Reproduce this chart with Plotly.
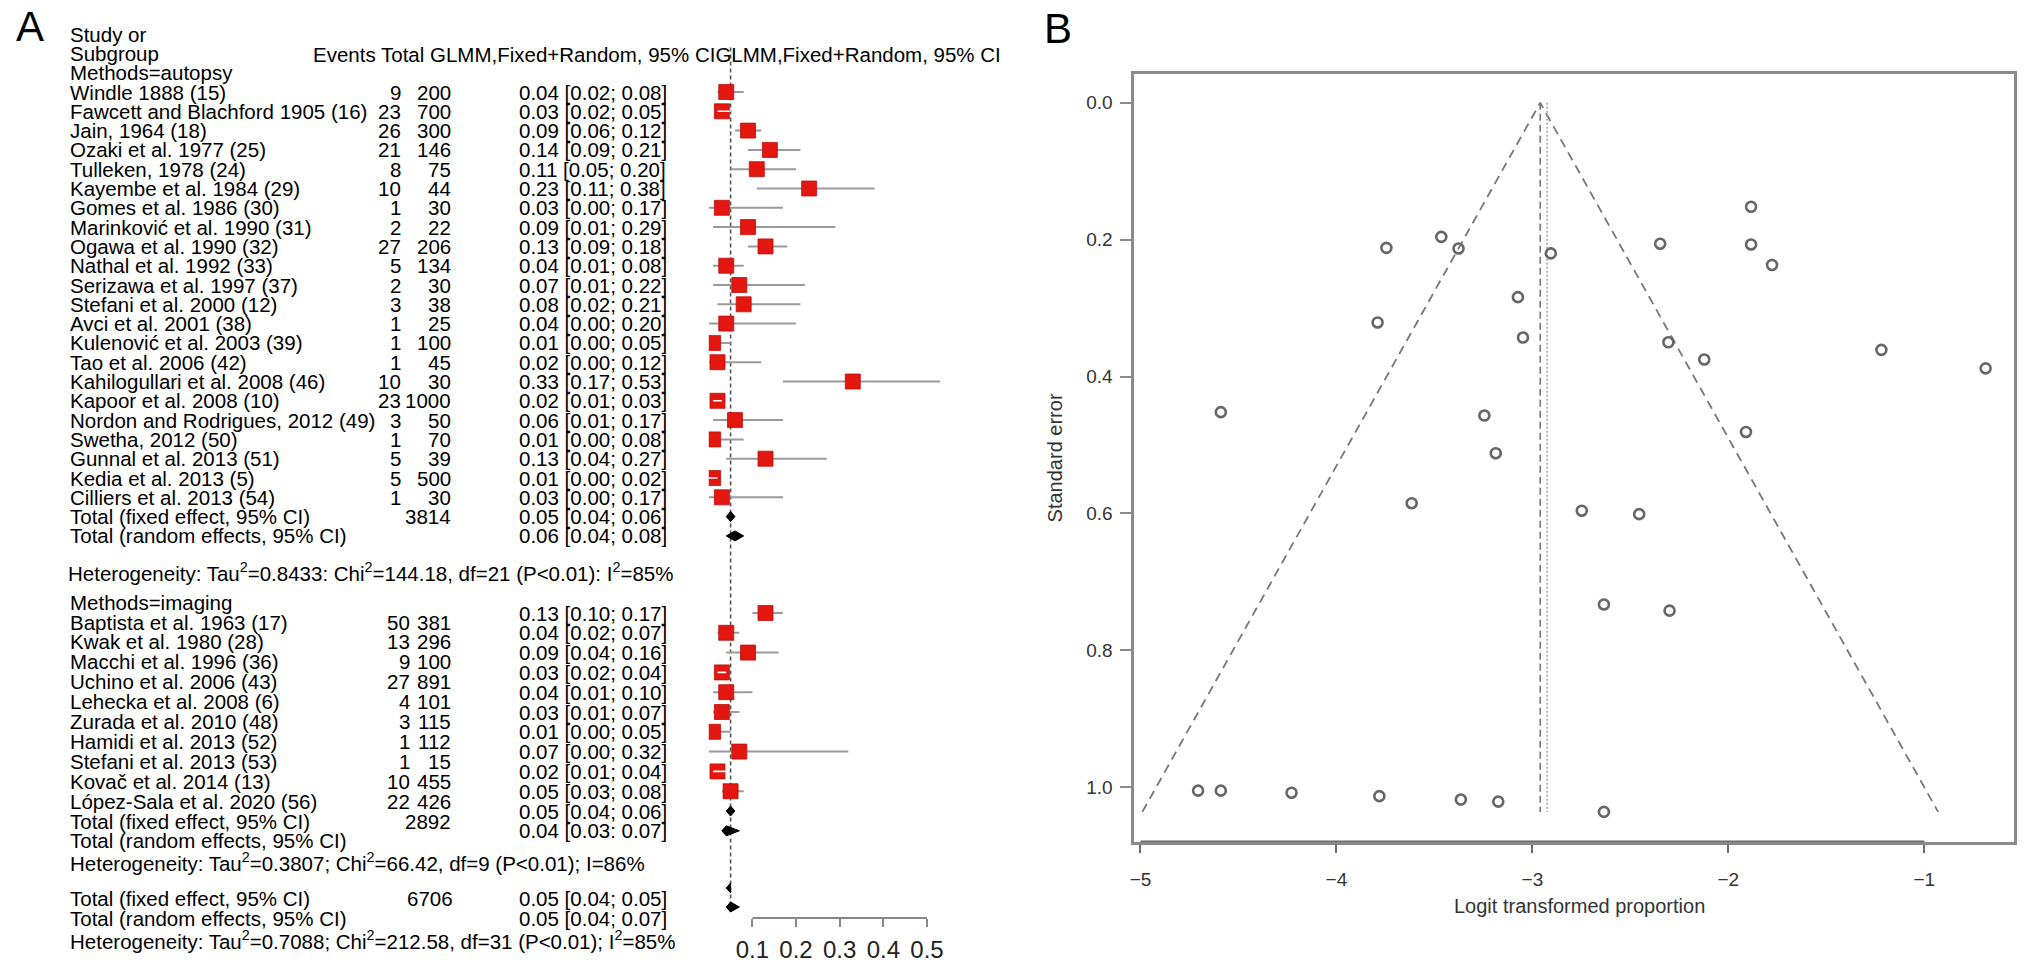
import plotly.graph_objects as go

W, H = 2032, 969

# ------------------------- data: panel A (forest plot) -------------------------
autopsy_study = ["Windle 1888 (15)", "Fawcett and Blachford 1905 (16)", "Jain, 1964 (18)",
                 "Ozaki et al. 1977 (25)", "Tulleken, 1978 (24)", "Kayembe et al. 1984 (29)",
                 "Gomes et al. 1986 (30)", "Marinković et al. 1990 (31)", "Ogawa et al. 1990 (32)",
                 "Nathal et al. 1992 (33)", "Serizawa et al. 1997 (37)", "Stefani et al. 2000 (12)",
                 "Avci et al. 2001 (38)", "Kulenović et al. 2003 (39)", "Tao et al. 2006 (42)",
                 "Kahilogullari et al. 2008 (46)", "Kapoor et al. 2008 (10)",
                 "Nordon and Rodrigues, 2012 (49)", "Swetha, 2012 (50)", "Gunnal et al. 2013 (51)",
                 "Kedia et al. 2013 (5)", "Cilliers et al. 2013 (54)"]
autopsy_events = [9, 23, 26, 21, 8, 10, 1, 2, 27, 5, 2, 3, 1, 1, 1, 10, 23, 3, 1, 5, 5, 1]
autopsy_total = [200, 700, 300, 146, 75, 44, 30, 22, 206, 134, 30, 38, 25, 100, 45, 30, 1000, 50, 70, 39, 500, 30]
autopsy_est = [0.04, 0.03, 0.09, 0.14, 0.11, 0.23, 0.03, 0.09, 0.13, 0.04, 0.07, 0.08, 0.04, 0.01, 0.02, 0.33, 0.02, 0.06, 0.01, 0.13, 0.01, 0.03]
autopsy_lo = [0.02, 0.02, 0.06, 0.09, 0.05, 0.11, 0.00, 0.01, 0.09, 0.01, 0.01, 0.02, 0.00, 0.00, 0.00, 0.17, 0.01, 0.01, 0.00, 0.04, 0.00, 0.00]
autopsy_hi = [0.08, 0.05, 0.12, 0.21, 0.20, 0.38, 0.17, 0.29, 0.18, 0.08, 0.22, 0.21, 0.20, 0.05, 0.12, 0.53, 0.03, 0.17, 0.08, 0.27, 0.02, 0.17]

imaging_study = ["Baptista et al. 1963 (17)", "Kwak et al. 1980 (28)", "Macchi et al. 1996 (36)",
                 "Uchino et al. 2006 (43)", "Lehecka et al. 2008 (6)", "Zurada et al. 2010 (48)",
                 "Hamidi et al. 2013 (52)", "Stefani et al. 2013 (53)", "Kovač et al. 2014 (13)",
                 "López-Sala et al. 2020 (56)"]
imaging_events = [50, 13, 9, 27, 4, 3, 1, 1, 10, 22]
imaging_total = [381, 296, 100, 891, 101, 115, 112, 15, 455, 426]
imaging_est = [0.13, 0.04, 0.09, 0.03, 0.04, 0.03, 0.01, 0.07, 0.02, 0.05]
imaging_lo = [0.10, 0.02, 0.04, 0.02, 0.01, 0.01, 0.00, 0.00, 0.01, 0.03]
imaging_hi = [0.17, 0.07, 0.16, 0.04, 0.10, 0.07, 0.05, 0.32, 0.04, 0.08]

summary_labels = ["Total (fixed effect, 95% CI)", "Total (random effects, 95% CI)"]
autopsy_sum_n = 3814
autopsy_sum_est = [0.05, 0.06]
autopsy_sum_lo = [0.04, 0.04]
autopsy_sum_hi = [0.06, 0.08]
imaging_sum_n = 2892
imaging_sum_est = [0.05, 0.04]
imaging_sum_lo = [0.04, 0.03]
imaging_sum_hi = [0.06, 0.07]
imaging_sum_sep = ["; ", ": "]
overall_sum_n = 6706
overall_sum_est = [0.05, 0.05]
overall_sum_lo = [0.04, 0.04]
overall_sum_hi = [0.05, 0.07]

het_autopsy = "Heterogeneity: Tau<sup>2</sup>=0.8433: Chi<sup>2</sup>=144.18, df=21 (P&lt;0.01): I<sup>2</sup>=85%"
het_imaging = "Heterogeneity: Tau<sup>2</sup>=0.3807; Chi<sup>2</sup>=66.42, df=9 (P&lt;0.01); I=86%"
het_overall = "Heterogeneity: Tau<sup>2</sup>=0.7088; Chi<sup>2</sup>=212.58, df=31 (P&lt;0.01); I<sup>2</sup>=85%"

header_cols = "Events Total GLMM,Fixed+Random, 95% CIGLMM,Fixed+Random, 95% CI"
forest_ticks = [0.1, 0.2, 0.3, 0.4, 0.5]

# ------------------------- data: panel B (funnel plot) -------------------------
funnel_logit = [-1.884, -3.465, -3.745, -3.377, -2.906, -2.348, -1.884, -1.777, -3.074, -3.790,
                -3.048, -2.306, -2.123, -1.219, -0.687, -4.590, -3.245, -1.910, -3.187, -3.616,
                -2.748, -2.455, -2.635, -2.300, -4.706, -4.590, -4.229, -3.781, -3.365, -3.174,
                -2.635]
funnel_se = [0.152, 0.196, 0.212, 0.213, 0.220, 0.206, 0.207, 0.237, 0.284, 0.321,
             0.343, 0.350, 0.375, 0.361, 0.388, 0.452, 0.457, 0.481, 0.512, 0.585,
             0.596, 0.601, 0.733, 0.742, 1.005, 1.005, 1.008, 1.013, 1.018, 1.021,
             1.036]
funnel_fixed = -2.96
funnel_random = -2.925
funnel_xticks = [-5, -4, -3, -2, -1]
funnel_yticks = [0.0, 0.2, 0.4, 0.6, 0.8, 1.0]

# ------------------------- layout constants (pixels) -------------------------
FONT = "Liberation Sans, Arial, Helvetica, sans-serif"
TXT = 20.5
X_NAME = 64
X_EV_A = 398
X_EV_I = 407
X_TOT = 448
X_EST = 514
X_HEAD = 308

ROW0, ROWH = 92.0, 19.3
y_head = [ROW0 - 3 * ROWH, ROW0 - 2 * ROWH, ROW0 - ROWH]
y_ap = [ROW0 + ROWH * i for i in range(len(autopsy_study))]
y_ap_sum = [ROW0 + ROWH * (len(autopsy_study) + k) for k in range(2)]
y_het1 = 572
y_im_label = 602
y_im_name = [622 + 19.9 * i for i in range(len(imaging_study) + 2)]
y_im_val = [613 + 19.8 * i for i in range(len(imaging_study) + 2)]
y_het2 = 862
y_ov_name = [898.5, 918]
y_ov_mark = [888, 907]
y_het3 = 940
Y_AXIS_A = 918

FX0, FX1 = 705.5, 968.0     # forest x-axis pixel extent for range [0, 0.6]
BX0, BX1, BY0, BY1 = 1132, 2014, 74, 842

fig = go.Figure()
ann = []


def text(x_px, y, s, anchor="left", size=TXT, color="#000"):
    ann.append(dict(x=x_px / W, xref="paper", y=y, yref="y", text=s, showarrow=False,
                    xanchor=anchor, yanchor="middle", borderpad=0,
                    font=dict(family=FONT, size=size, color=color)))


def ci(e, l, h, sep="; "):
    return f"{e:.2f} [{l:.2f}{sep}{h:.2f}]"


# header
text(X_NAME, y_head[0], "Study or")
text(X_NAME, y_head[1], "Subgroup")
text(X_HEAD, y_head[1] + 1, header_cols)
text(X_NAME, y_head[2], "Methods=autopsy")

# autopsy rows
for i, s in enumerate(autopsy_study):
    text(X_NAME, y_ap[i], s)
    text(X_EV_A, y_ap[i], str(autopsy_events[i]), "right")
    text(X_TOT, y_ap[i], str(autopsy_total[i]), "right")
    text(X_EST, y_ap[i], ci(autopsy_est[i], autopsy_lo[i], autopsy_hi[i]))
for k in range(2):
    text(X_NAME, y_ap_sum[k], summary_labels[k])
    text(X_EST, y_ap_sum[k], ci(autopsy_sum_est[k], autopsy_sum_lo[k], autopsy_sum_hi[k]))
text(X_TOT, y_ap_sum[0], str(autopsy_sum_n), "right")
text(X_NAME - 2, y_het1, het_autopsy)

# imaging rows
text(X_NAME, y_im_label, "Methods=imaging")
for i, s in enumerate(imaging_study):
    text(X_NAME, y_im_name[i], s)
    text(X_EV_I, y_im_name[i], str(imaging_events[i]), "right")
    text(X_TOT, y_im_name[i], str(imaging_total[i]), "right")
    text(X_EST, y_im_val[i], ci(imaging_est[i], imaging_lo[i], imaging_hi[i]))
n_im = len(imaging_study)
for k in range(2):
    text(X_NAME, y_im_name[n_im + k], summary_labels[k])
    text(X_EST, y_im_val[n_im + k], ci(imaging_sum_est[k], imaging_sum_lo[k], imaging_sum_hi[k], imaging_sum_sep[k]))
text(X_TOT, y_im_name[n_im], str(imaging_sum_n), "right")
text(X_NAME, y_het2, het_imaging)

# overall rows
for k in range(2):
    text(X_NAME, y_ov_name[k], summary_labels[k])
    text(X_EST, y_ov_name[k], ci(overall_sum_est[k], overall_sum_lo[k], overall_sum_hi[k]))
text(X_TOT + 2, y_ov_name[0], str(overall_sum_n), "right")
text(X_NAME, y_het3, het_overall)

# ---------------- forest marks ----------------
RED = "rgb(228,22,16)"
study_est = autopsy_est + imaging_est
study_lo = autopsy_lo + imaging_lo
study_hi = autopsy_hi + imaging_hi
study_y = y_ap + y_im_val[:n_im]

# reference line at overall random-effects estimate
fig.add_trace(go.Scatter(x=[overall_sum_est[1]] * 2, y=[y_head[1] - 6, 912], mode="lines",
                         line=dict(color="#555", width=1.6, dash="4px,3px"),
                         xaxis="x", yaxis="y", hoverinfo="skip", showlegend=False))

cx, cy = [], []
for e, l, h, y in zip(study_est, study_lo, study_hi, study_y):
    cx += [l, h, None]
    cy += [y, y, None]
fig.add_trace(go.Scatter(x=cx, y=cy, mode="lines", line=dict(color="#9a9a9a", width=2),
                         xaxis="x", yaxis="y", hoverinfo="skip", showlegend=False))
fig.add_trace(go.Scatter(x=study_est, y=study_y, mode="markers",
                         marker=dict(symbol="square", size=15, color=RED,
                                     line=dict(color="rgb(190,15,10)", width=0.8)),
                         xaxis="x", yaxis="y", hoverinfo="skip", showlegend=False))
# CI lines lying inside their box are drawn white
px_per_unit = (FX1 - FX0) / 0.6
wx, wy = [], []
for e, l, h, y in zip(study_est, study_lo, study_hi, study_y):
    if (h - l) * px_per_unit < 14:
        wx += [l, h, None]
        wy += [y, y, None]
fig.add_trace(go.Scatter(x=wx, y=wy, mode="lines", line=dict(color="white", width=1.6),
                         xaxis="x", yaxis="y", hoverinfo="skip", showlegend=False))

# diamonds
DH = 5.0
diamonds = [(autopsy_sum_est, autopsy_sum_lo, autopsy_sum_hi, y_ap_sum),
            (imaging_sum_est, imaging_sum_lo, imaging_sum_hi, y_im_val[n_im:]),
            (overall_sum_est, overall_sum_lo, overall_sum_hi, y_ov_mark)]
for ests, los, his, ys in diamonds:
    for e, l, h, y in zip(ests, los, his, ys):
        fig.add_trace(go.Scatter(x=[l, e, h, e, l], y=[y, y - DH, y, y + DH, y], mode="lines",
                                 fill="toself", fillcolor="black", line=dict(color="black", width=1),
                                 xaxis="x", yaxis="y", hoverinfo="skip", showlegend=False))

# forest axis line (from first to last tick)
fig.add_trace(go.Scatter(x=[forest_ticks[0], forest_ticks[-1]], y=[Y_AXIS_A, Y_AXIS_A], mode="lines",
                         line=dict(color="#888", width=2), xaxis="x", yaxis="y",
                         hoverinfo="skip", showlegend=False, cliponaxis=False))

# ---------------- funnel plot ----------------
se_max = max(funnel_se)
GRAY = "#8a8a8a"
LINEG = "#777777"
fig.add_trace(go.Scatter(x=[funnel_fixed - 1.96 * se_max, funnel_fixed, funnel_fixed + 1.96 * se_max],
                         y=[se_max, 0, se_max], mode="lines",
                         line=dict(color=LINEG, width=1.8, dash="9px,6px"),
                         xaxis="x2", yaxis="y2", hoverinfo="skip", showlegend=False))
fig.add_trace(go.Scatter(x=[funnel_fixed, funnel_fixed], y=[0, se_max], mode="lines",
                         line=dict(color=LINEG, width=1.6, dash="7px,4px"),
                         xaxis="x2", yaxis="y2", hoverinfo="skip", showlegend=False))
fig.add_trace(go.Scatter(x=[funnel_random, funnel_random], y=[0, se_max], mode="lines",
                         line=dict(color="#999999", width=1.4, dash="2px,2px"),
                         xaxis="x2", yaxis="y2", hoverinfo="skip", showlegend=False))
fig.add_trace(go.Scatter(x=funnel_logit, y=funnel_se, mode="markers",
                         marker=dict(symbol="circle-open", size=10, color="#666666",
                                     line=dict(width=2.6, color="#666666")),
                         xaxis="x2", yaxis="y2", hoverinfo="skip", showlegend=False))

y2_range = [1.080, -0.042]
fig.add_trace(go.Scatter(x=[funnel_xticks[0], funnel_xticks[-1]], y=[y2_range[0]] * 2, mode="lines",
                         line=dict(color="#6a6a6a", width=3), xaxis="x2", yaxis="y2",
                         hoverinfo="skip", showlegend=False, cliponaxis=False))

# panel labels and axis titles
ann.append(dict(x=9 / W, xref="paper", y=1 - 26 / H, yref="paper", text="A", showarrow=False,
                xanchor="left", yanchor="middle", font=dict(family=FONT, size=42, color="#000")))
ann.append(dict(x=1040 / W, xref="paper", y=1 - 29 / H, yref="paper", text="B", showarrow=False,
                xanchor="left", yanchor="middle", font=dict(family=FONT, size=42, color="#000")))
ann.append(dict(x=((BX0 + BX1) / 2 + 5) / W, xref="paper", y=1 - 906 / H, yref="paper",
                text="Logit transformed proportion", showarrow=False, xanchor="center",
                yanchor="middle", font=dict(family=FONT, size=20, color="#333")))
ann.append(dict(x=1053 / W, xref="paper", y=1 - ((BY0 + BY1) / 2) / H, yref="paper",
                text="Standard error", showarrow=False, textangle=-90, xanchor="center",
                yanchor="middle", font=dict(family=FONT, size=20, color="#333")))

fig.update_layout(
    width=W, height=H, margin=dict(l=0, r=0, t=0, b=0, pad=0),
    paper_bgcolor="white", plot_bgcolor="rgba(0,0,0,0)",
    font=dict(family=FONT, color="#000"),
    showlegend=False,
    annotations=ann,
    xaxis=dict(domain=[FX0 / W, FX1 / W], range=[0, 0.6], anchor="free", position=1 - Y_AXIS_A / H,
               showline=False, showgrid=False, zeroline=False, ticks="outside", ticklen=8,
               tickwidth=2, tickcolor="#888", tickvals=forest_ticks,
               ticktext=[f"{t:.1f}" for t in forest_ticks], ticklabelstandoff=2,
               tickfont=dict(family=FONT, size=24, color="#222")),
    yaxis=dict(domain=[0, 1], range=[H, 0], visible=False, showgrid=False, zeroline=False),
    xaxis2=dict(domain=[BX0 / W, BX1 / W], range=[-5.032, -0.542], anchor="y2",
                showline=True, mirror=True, linecolor=GRAY, linewidth=2.5,
                showgrid=False, zeroline=False, ticks="outside", ticklen=8, tickwidth=2,
                tickcolor="#6a6a6a", tickvals=funnel_xticks, ticklabelstandoff=10,
                tickfont=dict(family=FONT, size=19, color="#333")),
    yaxis2=dict(domain=[1 - BY1 / H, 1 - BY0 / H], range=y2_range, anchor="x2",
                showline=True, mirror=True, linecolor=GRAY, linewidth=2.5,
                showgrid=False, zeroline=False, ticks="outside", ticklen=11, tickwidth=2,
                tickcolor="#8a8a8a", tickvals=funnel_yticks, tickformat=".1f",
                ticklabelstandoff=4, tickfont=dict(family=FONT, size=19, color="#333")),
)

fig.write_html("out.html", config={"displayModeBar": False},
               post_script="document.body.style.margin='0';")
